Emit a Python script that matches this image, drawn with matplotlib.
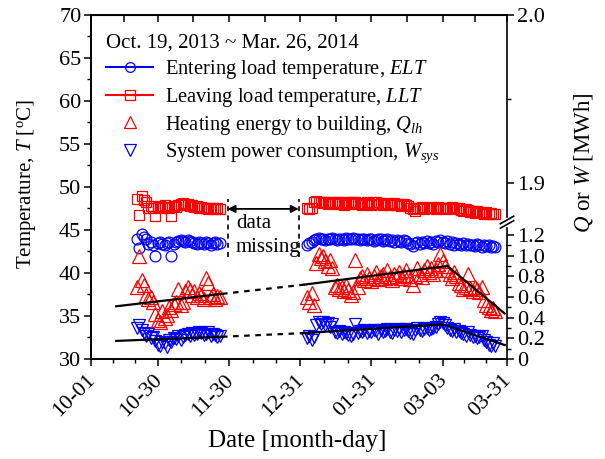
import numpy as np
import pandas as pd
import matplotlib
matplotlib.use("Agg")
import matplotlib.pyplot as plt
import matplotlib.dates as mdates
from matplotlib.lines import Line2D
from matplotlib.ticker import FixedLocator, FixedFormatter, MultipleLocator, NullLocator

plt.rcParams["font.family"] = "Liberation Serif"
plt.rcParams["mathtext.fontset"] = "custom"
plt.rcParams["mathtext.rm"] = "Liberation Serif"
plt.rcParams["mathtext.it"] = "Liberation Serif:italic"

# first measuring period (before the gap), one value per day
start1 = "2013-10-21"
elt1 = [44.0, 42.9, 44.5, 44.2, 43.9, 43.4, 43.6, 43.3, 42.0, 43.5,
        43.6, 43.4, 43.2, 43.5, 43.6, 42.0, 43.4, 43.6, 43.7, 43.8,
        43.7, 43.6, 43.8, 43.7, 43.6, 43.5, 43.4, 43.6, 43.5, 43.4,
        43.6, 43.5, 43.3, 43.5, 43.6, 43.4, 43.5]
llt1 = [48.6, 46.7, 48.9, 48.5, 48.2, 47.6, 47.8, 47.5, 46.6, 47.7,
        47.8, 47.6, 47.9, 47.7, 47.5, 46.6, 47.8, 47.7, 47.9, 48.0,
        48.1, 47.9, 48.0, 47.8, 47.9, 47.7, 47.8, 47.6, 47.7, 47.5,
        47.6, 47.4, 47.5, 47.6, 47.4, 47.5, 47.4]
q1 = [0.70, 1.00, 0.76, 0.72, 0.62, 0.58, 0.60, 0.55, 0.44, 0.38,
      0.36, 0.46, 0.40, 0.43, 0.50, 0.47, 0.53, 0.55, 0.68, 0.52,
      0.55, 0.66, 0.70, 0.67, 0.62, 0.66, 0.60, 0.64, 0.62, 0.58,
      0.78, 0.74, 0.60, 0.63, 0.58, 0.61, 0.60]
w1 = [0.30, 0.33, 0.28, 0.25, 0.22, 0.24, 0.20, 0.21, 0.17, 0.14,
      0.13, 0.16, 0.15, 0.12, 0.18, 0.16, 0.20, 0.19, 0.22, 0.18,
      0.21, 0.23, 0.24, 0.22, 0.25, 0.23, 0.24, 0.26, 0.25, 0.23,
      0.24, 0.26, 0.22, 0.24, 0.23, 0.21, 0.22]

# second measuring period (after the gap)
start2 = "2014-01-03"
elt2 = [43.3, 43.5, 43.6, 43.8, 44.0, 44.1, 43.9, 44.0, 43.8, 44.0,
        43.9, 44.1, 43.9, 43.8, 44.0, 43.9, 43.8, 44.1, 43.9, 44.0,
        44.1, 44.0, 43.9, 43.8, 44.0, 43.9, 43.8, 44.0, 43.9, 43.7,
        43.8, 44.0, 43.9, 43.7, 43.8, 43.9, 43.7, 43.8, 43.6, 43.8,
        43.7, 43.6, 43.8, 43.7, 43.5, 43.4, 43.1, 43.5, 43.6, 43.4,
        43.6, 43.5, 43.7, 43.5, 43.6, 43.4, 43.7, 43.6, 43.8, 43.6,
        43.5, 43.7, 43.4, 43.6, 43.3, 43.5, 43.4, 43.2, 43.5, 43.3,
        43.4, 43.2, 43.3, 43.1, 43.4, 43.2, 43.0, 43.3, 43.1, 43.2,
        43.0, 43.1, 43.0]
llt2 = [47.5, 47.4, 47.6, 48.3, 48.4, 48.2, 48.3, 48.1, 48.2, 48.0,
        48.2, 48.1, 48.3, 48.0, 48.2, 48.1, 47.9, 48.2, 48.0, 48.1,
        48.3, 48.2, 48.0, 48.1, 47.9, 48.0, 48.2, 48.1, 47.9, 48.0,
        48.2, 48.0, 48.1, 47.9, 48.0, 48.1, 47.9, 48.0, 48.1, 47.9,
        48.0, 47.8, 48.0, 47.9, 47.8, 47.6, 47.4, 47.2, 47.6, 47.5,
        47.7, 47.4, 47.6, 47.5, 47.7, 47.6, 47.4, 47.7, 47.5, 47.6,
        47.4, 47.6, 47.5, 47.7, 47.4, 47.5, 47.6, 47.3, 47.2, 47.4,
        47.3, 47.1, 47.2, 47.0, 47.2, 47.1, 47.0, 46.9, 47.1, 46.8,
        47.0, 46.8, 46.9]
q2 = [0.60, 0.55, 0.64, 0.52, 0.93, 1.02, 0.98, 1.00, 0.95, 0.90,
      0.96, 0.88, 0.70, 0.72, 0.68, 0.70, 0.66, 0.72, 0.67, 0.62,
      0.65, 0.96, 0.70, 0.78, 0.80, 0.76, 0.82, 0.78, 0.75, 0.80,
      0.84, 0.77, 0.80, 0.82, 0.78, 0.86, 0.79, 0.76, 0.82, 0.80,
      0.84, 0.78, 0.81, 0.86, 0.80, 0.77, 0.72, 0.80, 0.88, 0.82,
      0.79, 0.86, 0.90, 0.84, 0.88, 0.82, 0.86, 0.92, 1.02, 0.95,
      0.90, 0.86, 0.82, 0.78, 0.84, 0.80, 0.74, 0.72, 0.68, 0.70,
      0.82, 0.69, 0.66, 0.70, 0.68, 0.65, 0.70, 0.57, 0.52, 0.50,
      0.47, 0.49, 0.46]
w2 = [0.20, 0.22, 0.18, 0.21, 0.33, 0.36, 0.34, 0.36, 0.33, 0.35,
      0.31, 0.34, 0.26, 0.25, 0.27, 0.24, 0.26, 0.25, 0.23, 0.22,
      0.24, 0.34, 0.25, 0.27, 0.26, 0.28, 0.25, 0.27, 0.26, 0.28,
      0.27, 0.24, 0.28, 0.26, 0.27, 0.29, 0.26, 0.25, 0.28, 0.27,
      0.29, 0.26, 0.28, 0.29, 0.27, 0.25, 0.24, 0.28, 0.30, 0.28,
      0.27, 0.29, 0.30, 0.28, 0.29, 0.30, 0.31, 0.34, 0.36, 0.35,
      0.33, 0.30, 0.28, 0.27, 0.29, 0.26, 0.27, 0.25, 0.24, 0.22,
      0.26, 0.23, 0.21, 0.22, 0.20, 0.21, 0.22, 0.18, 0.16, 0.14,
      0.13, 0.15, 0.13]

# black trend lines (middle segment dashed across the gap)
q_trend_dates = ["2013-10-12", "2013-11-27", "2014-01-02", "2014-03-05", "2014-03-30"]
q_trend = [0.51, 0.63, 0.72, 0.90, 0.44]
w_trend_dates = ["2013-10-12", "2013-11-27", "2014-01-01", "2014-03-03", "2014-03-30"]
w_trend = [0.175, 0.215, 0.25, 0.335, 0.135]

gap_dates = ["2013-11-29 10:00", "2013-12-30 10:00"]

tick_dates = ["2013-10-01", "2013-10-30", "2013-11-30", "2013-12-31",
              "2014-01-31", "2014-03-03", "2014-03-31"]
tick_labels = ["10-01", "10-30", "11-30", "12-31", "01-31", "03-03", "03-31"]

q_ticks = [0, 0.2, 0.4, 0.6, 0.8, 1.0, 1.2, 1.9, 2.0]
q_ticklabels = ["0", "0.2", "0.4", "0.6", "0.8", "1.0", "1.2", "1.9", "2.0"]
q_minor = [0.1, 0.3, 0.5, 0.7, 0.9, 1.1, 1.95]

d1 = pd.date_range(start1, periods=len(elt1))
d2 = pd.date_range(start2, periods=len(elt2))

fig = plt.figure(figsize=(6.05, 4.59), dpi=100)
ax = fig.add_axes([0.1504, 0.2179, 0.6876, 0.7495])
ax2 = ax.twinx()

# broken right axis: 0-1.2 squeezed at the bottom, 1.9-2.0 stretched on top
brk_v = [0, 1.2, 1.877, 2.0]
brk_p = [0, 124, 137, 344]
ax2.set_yscale("function", functions=(lambda v: np.interp(v, brk_v, brk_p),
                                      lambda p: np.interp(p, brk_p, brk_v)))

red, blue = "#ff0000", "#0000ff"
for d, e, l in [(d1, elt1, llt1), (d2, elt2, llt2)]:
    ax.plot(d, e, ls="none", marker="o", ms=7.8, mfc="none", mec=blue, mew=0.9)
    ax.plot(d, l, ls="none", marker="s", ms=7.0, mfc="none", mec=red, mew=0.9)
for d, q, w in [(d1, q1, w1), (d2, q2, w2)]:
    ax2.plot(d, q, ls="none", marker="^", ms=9.5, mfc="none", mec=red, mew=0.9)
    ax2.plot(d, w, ls="none", marker="v", ms=8.5, mfc="none", mec=blue, mew=0.9)

for dates, vals in [(q_trend_dates, q_trend), (w_trend_dates, w_trend)]:
    dd = pd.to_datetime(dates)
    ax2.plot(dd[:2], vals[:2], color="k", lw=1.6)
    ax2.plot(dd[1:3], vals[1:3], color="k", lw=1.6, ls=(0, (2.5, 2.5)))
    ax2.plot(dd[2:], vals[2:], color="k", lw=1.6)

# data missing marker
g = pd.to_datetime(gap_dates)
for x in g:
    ax.plot([x, x], [41.9, 48.6], color="k", lw=1.2, ls=(0, (3, 2.5)))
ax.annotate("", xy=(g[0], 47.45), xytext=(g[1], 47.45),
            arrowprops=dict(arrowstyle="<|-|>", color="k", lw=1.3,
                            mutation_scale=11, shrinkA=0, shrinkB=0))
ax.text(pd.Timestamp("2013-12-03"), 45.7, "data", fontsize=15, ha="left", va="center")
ax.text(pd.Timestamp("2013-12-03"), 43.0, "missing", fontsize=15, ha="left", va="center")

# x axis
tick_num = mdates.date2num(pd.to_datetime(tick_dates))
minor_num = np.concatenate([a + (b - a) * np.array([1 / 3, 2 / 3])
                            for a, b in zip(tick_num[:-1], tick_num[1:])])
top_num = np.sort(np.concatenate([tick_num, (tick_num[:-1] + tick_num[1:]) / 2]))
ax.set_xlim(tick_num[0], tick_num[-1])
ax.set_xticks(tick_num)
ax.set_xticklabels(tick_labels, rotation=45, ha="right", va="center_baseline",
                   rotation_mode="anchor")
ax.set_xticks(minor_num, minor=True)
ax.set_xlabel("Date [month-day]", fontsize=18)
ax.xaxis.set_label_coords(0.495, -0.205)

top = ax.secondary_xaxis("top")
top.set_xticks(top_num)
top.xaxis.set_minor_locator(NullLocator())
top.tick_params(direction="in", length=5, width=1.1, labeltop=False)

# left axis
ax.set_ylim(30, 70)
ax.set_yticks(range(30, 71, 5))
ax.yaxis.set_minor_locator(MultipleLocator(2.5))
ax.set_ylabel(r"Temperature, $T$ [$^{\rm o}$C]", fontsize=15)
ax.yaxis.set_label_coords(-0.128, 0.51)

# right axis
ax2.set_ylim(0, 2.0)
ax2.yaxis.set_major_locator(FixedLocator(q_ticks))
ax2.yaxis.set_major_formatter(FixedFormatter(q_ticklabels))
ax2.yaxis.set_minor_locator(FixedLocator(q_minor))
ax2.set_ylabel(r"$Q$ or $W$ [MWh]", fontsize=16.5)
ax2.yaxis.set_label_coords(1.156, 0.57)

for a in (ax, ax2):
    a.tick_params(which="major", direction="out", length=5, width=1.1, labelsize=16, pad=2)
    a.tick_params(which="minor", direction="out", length=3, width=1.0)
    for s in a.spines.values():
        s.set_linewidth(1.2)
ax.tick_params(axis="x", which="major", pad=7)
ax.spines["right"].set_visible(False)
ax2.spines["right"].set_visible(False)

# right spine with break marks
lo, hi = 0.382, 0.412
kw = dict(transform=ax2.transAxes, color="k", lw=1.2, clip_on=False)
ax2.plot([1, 1], [0, lo], **kw)
ax2.plot([1, 1], [hi, 1], **kw)
for yc in (0.391, 0.404):
    ax2.plot([1 - 0.016, 1 + 0.016], [yc - 0.011, yc + 0.011], **kw)

handles = [
    Line2D([], [], color=blue, lw=1.5, marker="o", ms=7, mfc="none", mew=0.9),
    Line2D([], [], color=red, lw=1.5, marker="s", ms=6.5, mfc="none", mew=0.9),
    Line2D([], [], color=red, ls="none", marker="^", ms=9, mfc="none", mew=0.9),
    Line2D([], [], color=blue, ls="none", marker="v", ms=8, mfc="none", mew=0.9),
]
labels = ["Entering load temperature, $ELT$",
          "Leaving load temperature, $LLT$",
          "Heating energy to building, $Q_{lh}$",
          "System power consumption, $W_{sys}$"]
ax.legend(handles, labels, title="Oct. 19, 2013 ~ Mar. 26, 2014",
          loc="upper left", bbox_to_anchor=(0.036, 0.945), frameon=False,
          fontsize=14.8, title_fontsize=15, handlelength=2.3, handletextpad=0.55,
          labelspacing=0.24, borderpad=0, borderaxespad=0, alignment="left")

fig.savefig("out.png", dpi=100)
